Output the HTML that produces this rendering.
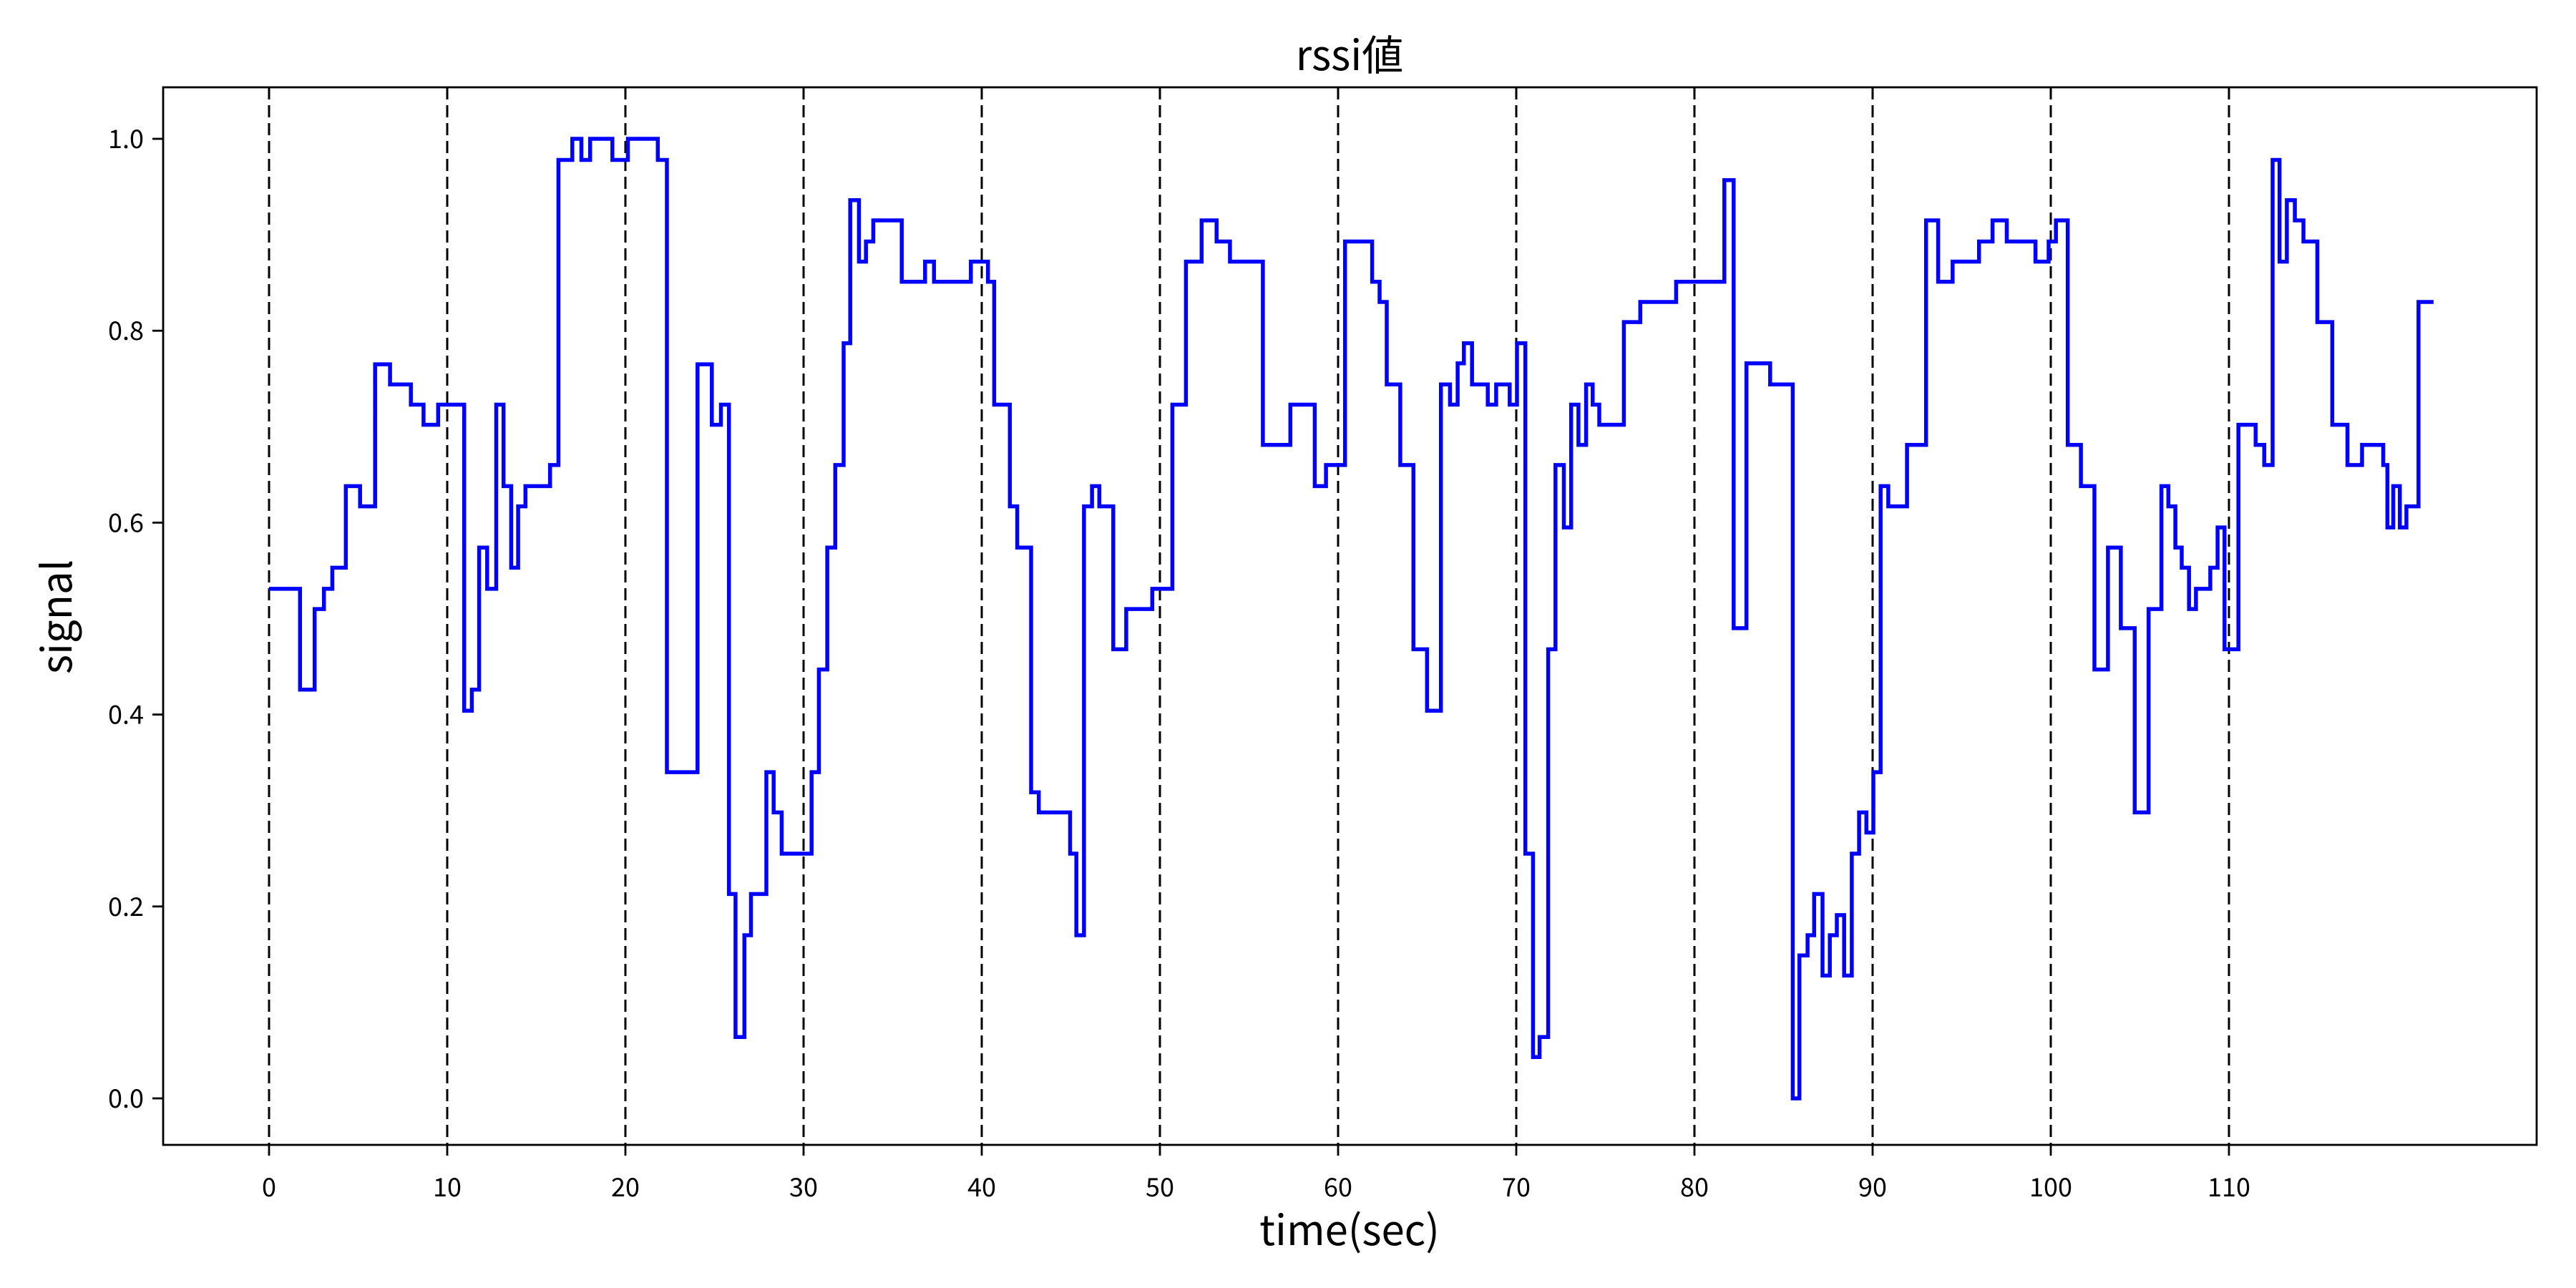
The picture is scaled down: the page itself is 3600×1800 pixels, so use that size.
<!DOCTYPE html>
<html><head><meta charset="utf-8"><title>rssi値</title>
<style>
html,body{margin:0;padding:0;background:#fff;}
svg{display:block;}
text{font-family:"Noto Sans CJK JP","Liberation Sans",sans-serif;fill:#000;}
</style></head>
<body>
<svg id="chart" width="3600" height="1800" viewBox="0 0 3600 1800" xmlns="http://www.w3.org/2000/svg">
<rect x="0" y="0" width="3600" height="1800" fill="#fff"/>
<text x="1886" y="98" font-size="58" text-anchor="middle">rssi値</text>
<text x="1886" y="1740" font-size="58" text-anchor="middle">time(sec)</text>
<text x="0" y="0" font-size="58" text-anchor="middle" transform="translate(100,862) rotate(-90)">signal</text>
<g id="grid"></g>
<g id="series"></g>
<g id="axes"></g>
</svg>
<script>
const times = [0,1.74,2.56,3.08,3.55,4.31,5.11,5.95,6.79,7.96,8.67,9.49,10.95,11.38,11.79,12.24,12.75,13.16,13.59,13.98,14.39,15.77,16.24,17.02,17.53,18.02,19.27,20.14,21.82,22.33,24.05,24.85,25.36,25.81,26.18,26.68,27.05,27.91,28.32,28.77,30.45,30.86,31.33,31.78,32.25,32.62,33.11,33.50,33.91,35.51,36.82,37.32,39.39,40.35,40.70,41.58,41.99,42.77,43.20,44.96,45.31,45.74,46.19,46.60,47.38,48.11,49.57,50.70,51.46,52.34,53.18,53.93,55.78,57.32,58.69,59.32,60.39,61.91,62.33,62.73,63.49,64.23,64.99,65.77,66.28,66.71,67.06,67.52,68.40,68.87,69.63,70.04,70.51,70.94,71.31,71.79,72.20,72.67,73.08,73.49,73.92,74.29,74.66,76.04,76.96,78.97,81.68,82.20,82.92,84.25,85.52,85.89,86.35,86.72,87.19,87.60,87.99,88.40,88.83,89.24,89.65,90.04,90.45,90.88,91.93,93.00,93.68,94.49,95.97,96.73,97.53,99.14,99.88,100.29,100.95,101.69,102.45,103.21,103.93,104.71,105.49,106.21,106.60,106.99,107.35,107.76,108.15,108.95,109.36,109.75,110.53,111.50,111.98,112.45,112.84,113.25,113.70,114.18,114.96,115.80,116.65,117.47,118.66,118.89,119.22,119.59,119.96,120.64];
const signal = [0.531,0.426,0.510,0.531,0.553,0.638,0.617,0.765,0.744,0.723,0.702,0.723,0.404,0.426,0.574,0.531,0.723,0.638,0.553,0.617,0.638,0.660,0.978,1.0,0.978,1.0,0.978,1.0,0.978,0.340,0.765,0.702,0.723,0.213,0.064,0.170,0.213,0.340,0.298,0.255,0.340,0.447,0.574,0.660,0.787,0.936,0.872,0.893,0.915,0.851,0.872,0.851,0.872,0.851,0.723,0.617,0.574,0.319,0.298,0.255,0.170,0.617,0.638,0.617,0.468,0.510,0.531,0.723,0.872,0.915,0.893,0.872,0.681,0.723,0.638,0.660,0.893,0.851,0.830,0.744,0.660,0.468,0.404,0.744,0.723,0.766,0.787,0.744,0.723,0.744,0.723,0.787,0.255,0.043,0.064,0.468,0.660,0.595,0.723,0.681,0.744,0.723,0.702,0.809,0.830,0.851,0.957,0.490,0.766,0.744,0.0,0.149,0.170,0.213,0.128,0.170,0.191,0.128,0.255,0.298,0.277,0.340,0.638,0.617,0.681,0.915,0.851,0.872,0.893,0.915,0.893,0.872,0.893,0.915,0.681,0.638,0.447,0.574,0.490,0.298,0.510,0.638,0.617,0.574,0.553,0.510,0.531,0.553,0.595,0.468,0.702,0.681,0.660,0.978,0.872,0.936,0.915,0.893,0.809,0.702,0.660,0.681,0.660,0.595,0.638,0.595,0.617,0.830];
const endTime = 121.48;
const xTicks = [0,10,20,30,40,50,60,70,80,90,100,110];
const xTickLabels = ["0","10","20","30","40","50","60","70","80","90","100","110"];
const yTicks = [0.0,0.2,0.4,0.6,0.8,1.0];
const yTickLabels = ["0.0","0.2","0.4","0.6","0.8","1.0"];

const NS = "http://www.w3.org/2000/svg";
const L = 228, R = 3545, T = 122, B = 1600;
const X0 = 376, XS = 24.9;
const Y0 = 1535, YS = 1341;
function sx(t){ return X0 + t*XS; }
function sy(v){ return Y0 - v*YS; }
function mk(tag, attrs){ const e=document.createElementNS(NS,tag); for(const k in attrs) e.setAttribute(k,attrs[k]); return e; }

const grid = document.getElementById('grid');
xTicks.forEach((t,i)=>{
  const ln = mk('line',{x1:sx(t),x2:sx(t),y1:T,y2:B,stroke:'#000','stroke-width':3,'stroke-dasharray':'17 8'});
  
  
  grid.appendChild(ln);
});

let d = 'M' + sx(times[0]) + ' ' + sy(signal[0]);
for(let i=1;i<times.length;i++){
  d += ' H' + sx(times[i]).toFixed(1) + ' V' + sy(signal[i]).toFixed(1);
}
d += ' H' + sx(endTime).toFixed(1);
const path = mk('path',{d:d,fill:'none',stroke:'#0000ff','stroke-width':5.5,'stroke-linejoin':'miter'});


document.getElementById('series').appendChild(path);

const axes = document.getElementById('axes');
const frame = mk('rect',{x:L,y:T,width:R-L,height:B-T,fill:'none',stroke:'#000','stroke-width':2.8});


axes.appendChild(frame);
xTicks.forEach((t,i)=>{
  const tk = mk('line',{x1:sx(t),x2:sx(t),y1:B,y2:B+15,stroke:'#000','stroke-width':2.8});
  
  
  axes.appendChild(tk);
  const tx = mk('text',{x:sx(t),y:B+72,'font-size':36,'text-anchor':'middle'});
  tx.textContent = xTickLabels[i];
  
  
  axes.appendChild(tx);
});
yTicks.forEach((v,i)=>{
  const tk = mk('line',{x1:L-15,x2:L,y1:sy(v),y2:sy(v),stroke:'#000','stroke-width':2.8});
  
  
  axes.appendChild(tk);
  const tx = mk('text',{x:L-27,y:sy(v)+13,'font-size':36,'text-anchor':'end'});
  tx.textContent = yTickLabels[i];
  
  
  axes.appendChild(tx);
});
</script>
</body></html>
